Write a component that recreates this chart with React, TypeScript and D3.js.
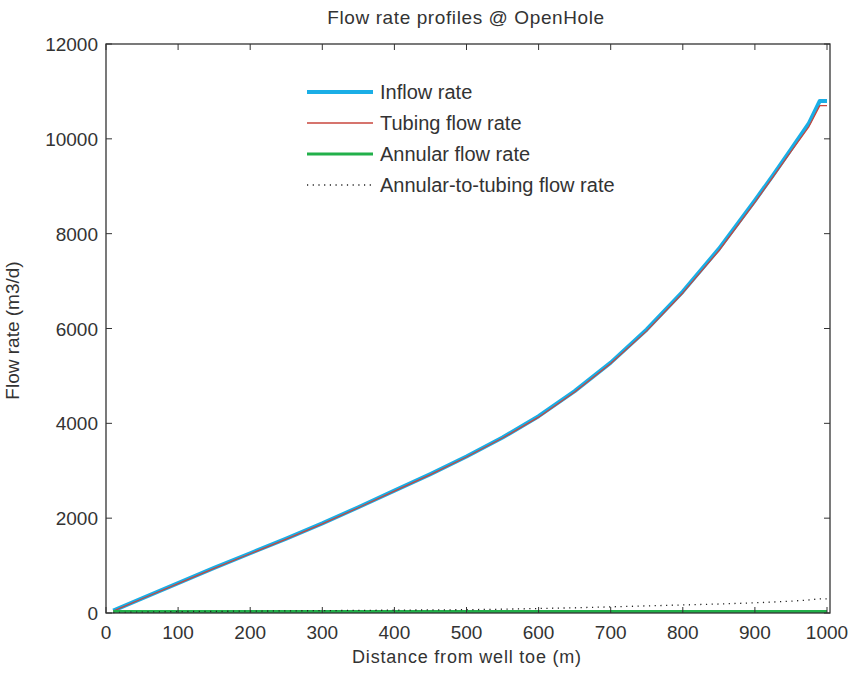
import React, { useEffect, useRef } from "react";
import * as d3 from "d3";

const width = 855;
const height = 677;
const margin = { top: 44, right: 25, bottom: 64, left: 106 };

const distance = [10, 50, 100, 150, 200, 250, 300, 350, 400, 450, 500, 550, 600, 650, 700, 750, 800, 850, 900, 925, 950, 975, 990, 1000];
const inflowRate = [50, 310, 630, 950, 1260, 1570, 1890, 2230, 2580, 2930, 3300, 3700, 4150, 4680, 5280, 5980, 6780, 7680, 8700, 9230, 9780, 10330, 10800, 10800];
const tubingRate = [40, 300, 620, 940, 1250, 1560, 1880, 2220, 2570, 2920, 3290, 3690, 4130, 4660, 5260, 5950, 6750, 7640, 8660, 9190, 9730, 10260, 10700, 10700];
const annularRate = [30, 30, 30, 30, 30, 30, 30, 30, 30, 30, 30, 30, 30, 30, 30, 30, 30, 30, 30, 30, 30, 30, 30, 30];
const annToTubingRate = [10, 20, 30, 35, 40, 45, 50, 55, 60, 65, 70, 80, 95, 110, 130, 150, 170, 190, 215, 230, 250, 275, 300, 300];

const xTicks = [0, 100, 200, 300, 400, 500, 600, 700, 800, 900, 1000];
const yTicks = [0, 2000, 4000, 6000, 8000, 10000, 12000];

const series = [
  { name: "Inflow rate", values: inflowRate, color: "#1aaee6", width: 4, dash: null },
  { name: "Tubing flow rate", values: tubingRate, color: "#c8463c", width: 1.3, dash: null },
  { name: "Annular flow rate", values: annularRate, color: "#22b04a", width: 3, dash: null },
  { name: "Annular-to-tubing flow rate", values: annToTubingRate, color: "#222", width: 1.3, dash: "1.2,4.5" },
];

export default function App() {
  const ref = useRef<SVGSVGElement>(null);

  useEffect(() => {
    const svg = d3.select(ref.current);
    svg.selectAll("*").remove();
    const font = "'Liberation Sans', Arial, sans-serif";
    const textColor = "#333";

    const x = d3.scaleLinear().domain([0, 1000]).range([margin.left, width - margin.right - 3]);
    const y = d3.scaleLinear().domain([0, 12000]).range([height - margin.bottom, margin.top]);
    const x0 = margin.left, x1 = width - margin.right;
    const y0 = height - margin.bottom, y1 = margin.top;

    // lines
    const line = d3.line<number>().x((d, i) => x(distance[i])).y(d => y(d));
    series.forEach(s => {
      svg.append("path")
        .attr("d", line(s.values))
        .attr("fill", "none")
        .attr("stroke", s.color)
        .attr("stroke-width", s.width)
        .attr("stroke-linejoin", "round")
        .attr("stroke-dasharray", s.dash);
    });

    // box
    svg.append("rect")
      .attr("x", x0).attr("y", y1)
      .attr("width", x1 - x0).attr("height", y0 - y1)
      .attr("fill", "none").attr("stroke", "#333").attr("stroke-width", 1.3);

    // ticks, inward on all sides
    const tl = 6;
    xTicks.forEach(t => {
      svg.append("line").attr("x1", x(t)).attr("x2", x(t)).attr("y1", y0).attr("y2", y0 - tl).attr("stroke", "#333");
      svg.append("line").attr("x1", x(t)).attr("x2", x(t)).attr("y1", y1).attr("y2", y1 + tl).attr("stroke", "#333");
      svg.append("text").attr("x", x(t)).attr("y", y0 + 26).attr("text-anchor", "middle")
        .attr("font-family", font).attr("font-size", 19).attr("fill", textColor).text(t);
    });
    yTicks.forEach(t => {
      svg.append("line").attr("x1", x0).attr("x2", x0 + tl).attr("y1", y(t)).attr("y2", y(t)).attr("stroke", "#333");
      svg.append("line").attr("x1", x1).attr("x2", x1 - tl).attr("y1", y(t)).attr("y2", y(t)).attr("stroke", "#333");
      svg.append("text").attr("x", x0 - 8).attr("y", y(t) + 7).attr("text-anchor", "end")
        .attr("font-family", font).attr("font-size", 19).attr("fill", textColor).text(t);
    });

    // title and labels
    svg.append("text").attr("x", 466).attr("y", 24).attr("text-anchor", "middle")
      .attr("font-family", font).attr("font-size", 19).attr("letter-spacing", 0.6).attr("fill", textColor)
      .text("Flow rate profiles @ OpenHole");
    svg.append("text").attr("x", 467).attr("y", 663).attr("text-anchor", "middle")
      .attr("font-family", font).attr("font-size", 18).attr("letter-spacing", 0.8).attr("fill", textColor)
      .text("Distance from well toe (m)");
    svg.append("text").attr("transform", `translate(19, ${(y0 + y1) / 2 + 2}) rotate(-90)`).attr("text-anchor", "middle")
      .attr("font-family", font).attr("font-size", 19).attr("fill", textColor).text("Flow rate (m3/d)");

    // legend
    const lx = 307, ly = 92, step = 31;
    series.forEach((s, i) => {
      const yy = ly + i * step;
      svg.append("line").attr("x1", lx).attr("x2", lx + 66).attr("y1", yy).attr("y2", yy)
        .attr("stroke", s.color).attr("stroke-width", s.width).attr("stroke-dasharray", s.dash);
      svg.append("text").attr("x", lx + 73).attr("y", yy + 7)
        .attr("font-family", font).attr("font-size", 20).attr("fill", textColor).text(s.name);
    });
  }, []);

  return (
    <svg ref={ref} width={width} height={height}
      style={{ position: "absolute", left: 0, top: 0, background: "#fff" }} />
  );
}
